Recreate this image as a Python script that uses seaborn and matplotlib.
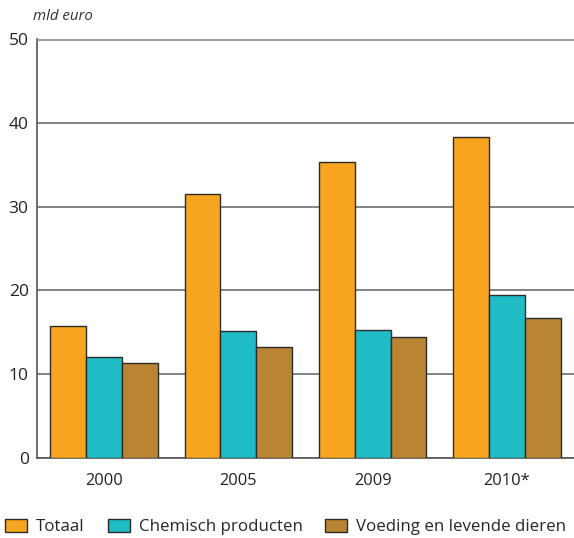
import matplotlib
matplotlib.use("Agg")
import matplotlib.pyplot as plt
import seaborn as sns
import pandas as pd
from matplotlib.patches import Patch

years = ["2000", "2005", "2009", "2010*"]
series = ["Totaal", "Chemisch producten", "Voeding en levende dieren"]
totaal = [15.8, 31.5, 35.3, 38.4]
chemisch = [12.0, 15.2, 15.3, 19.5]
voeding = [11.3, 13.2, 14.4, 16.7]
colors = ["#F7A51E", "#1FBCC6", "#B98533"]
yticks = [0, 10, 20, 30, 40, 50]

df = pd.DataFrame({
    "jaar": years * 3,
    "serie": [series[0]] * 4 + [series[1]] * 4 + [series[2]] * 4,
    "waarde": totaal + chemisch + voeding,
})

sns.set_theme(style="white")
plt.rcParams["font.family"] = ["Open Sans", "DejaVu Sans"]

fig = plt.figure(figsize=(5.74, 5.38), dpi=100)
ax = fig.add_axes([37 / 574, 1 - 457.7 / 538, 1 - 37 / 574, (457.7 - 39.5) / 538])

sns.barplot(data=df, x="jaar", y="waarde", hue="serie", palette=colors,
            width=0.8, edgecolor="#2b2b2b", linewidth=1.0, ax=ax, legend=False,
            saturation=1, zorder=3)

ax.set_ylim(0, 50)
ax.set_xlim(-0.5, 3.5)
ax.set_yticks(yticks)
ax.set_yticklabels([str(v) for v in yticks])
ax.yaxis.grid(True, color="#6e6e6e", linewidth=1.2, zorder=0)
ax.set_axisbelow(True)
ax.set_xlabel("")
ax.set_ylabel("")
ax.spines["right"].set_visible(False)
ax.spines["top"].set_color("#8a8a8a")
ax.spines["top"].set_linewidth(1.2)
ax.spines["left"].set_color("#555555")
ax.spines["bottom"].set_color("#555555")
ax.spines["left"].set_linewidth(1.2)
ax.spines["bottom"].set_linewidth(1.2)
ax.tick_params(axis="y", length=0, labelsize=12.5, colors="#222222", pad=6)
ax.tick_params(axis="x", length=0, labelsize=11.8, colors="#222222", pad=11)

fig.text(33 / 574, 1 - 17 / 538, "mld euro", style="italic", fontsize=10.8,
         color="#333333", va="center", ha="left")

handles = [Patch(facecolor=c, edgecolor="#2b2b2b", linewidth=1.0) for c in colors]
fig.legend(handles, series, loc="center left", bbox_to_anchor=(5 / 574, 1 - 527 / 538), ncol=3,
           frameon=False, fontsize=12.2, handlelength=1.3, handleheight=0.83,
           handletextpad=0.53, columnspacing=1.35, borderaxespad=0.0, borderpad=0.0)

fig.savefig("out.png", dpi=100)
